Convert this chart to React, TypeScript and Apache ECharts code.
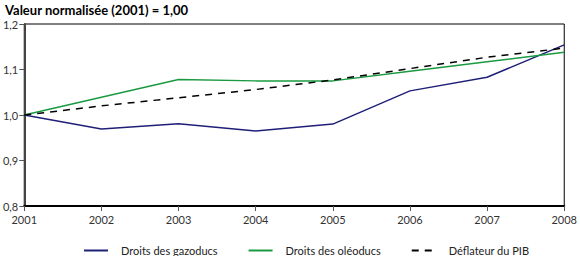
import React, { useEffect, useRef } from "react";
import * as echarts from "echarts";

const years = ["2001", "2002", "2003", "2004", "2005", "2006", "2007", "2008"];
const gazoducs = [1.0, 0.969, 0.981, 0.965, 0.98, 1.053, 1.083, 1.154];
const oleoducs = [1.0, 1.039, 1.078, 1.075, 1.075, 1.096, 1.117, 1.138];
const deflateur = [1.0, 1.02, 1.038, 1.056, 1.077, 1.102, 1.127, 1.147];
const seriesNames = ["Droits des gazoducs", "Droits des oléoducs", "Déflateur du PIB"];
const titleText = "Valeur normalisée (2001) = 1,00";

const FONT = "Lato, 'Open Sans', sans-serif";

export default function App() {
  const ref = useRef<HTMLDivElement>(null);
  useEffect(() => {
    if (!ref.current) return;
    const chart = echarts.init(ref.current, null, { renderer: "svg" });
    chart.setOption({
      animation: false,
      title: {
        text: titleText,
        left: 0,
        top: -2,
        textStyle: { fontFamily: FONT, fontSize: 13, fontWeight: "bold", color: "#000" },
      },
      grid: {
        left: 24,
        right: 14,
        top: 24,
        bottom: 50,
        show: true,
        borderColor: "#000",
        borderWidth: 1,
      },
      legend: {
        left: 78,
        top: 240,
        itemWidth: 24,
        itemHeight: 10,
        itemGap: 30,
        itemStyle: { opacity: 0 },
        textStyle: { fontFamily: FONT, fontSize: 11, color: "#222", padding: [0, 0, 0, 8] },
        data: seriesNames,
      },
      xAxis: {
        type: "category",
        data: years,
        boundaryGap: false,
        axisLine: { lineStyle: { color: "#000", width: 2 } },
        axisTick: { show: true, length: 5, lineStyle: { color: "#555" }, alignWithLabel: true },
        axisLabel: { fontFamily: FONT, fontSize: 11, color: "#333", margin: 8 },
        splitLine: { show: false },
      },
      yAxis: {
        type: "value",
        min: 0.8,
        max: 1.2,
        interval: 0.1,
        axisLine: { show: true, lineStyle: { color: "#444", width: 2 } },
        axisTick: { show: true, length: 5, lineStyle: { color: "#555" } },
        axisLabel: {
          fontFamily: FONT,
          fontSize: 11,
          color: "#333",
          margin: 6,
          formatter: (v: number) => v.toFixed(1).replace(".", ","),
        },
        splitLine: { show: false },
      },
      series: [
        {
          name: seriesNames[0],
          type: "line",
          data: gazoducs,
          symbol: "none",
          lineStyle: { color: "#1f1f78", width: 1.5 },
          itemStyle: { color: "#1f1f78" },
        },
        {
          name: seriesNames[1],
          type: "line",
          data: oleoducs,
          symbol: "none",
          lineStyle: { color: "#1a9a40", width: 1.5 },
          itemStyle: { color: "#1a9a40" },
        },
        {
          name: seriesNames[2],
          type: "line",
          data: deflateur,
          symbol: "none",
          lineStyle: { color: "#000", width: 1.5, type: [7, 6] },
          itemStyle: { color: "#000" },
        },
      ],
    });
    return () => chart.dispose();
  }, []);
  return <div ref={ref} style={{ width: 580, height: 256, position: "absolute", left: 0, top: 0 }} />;
}
